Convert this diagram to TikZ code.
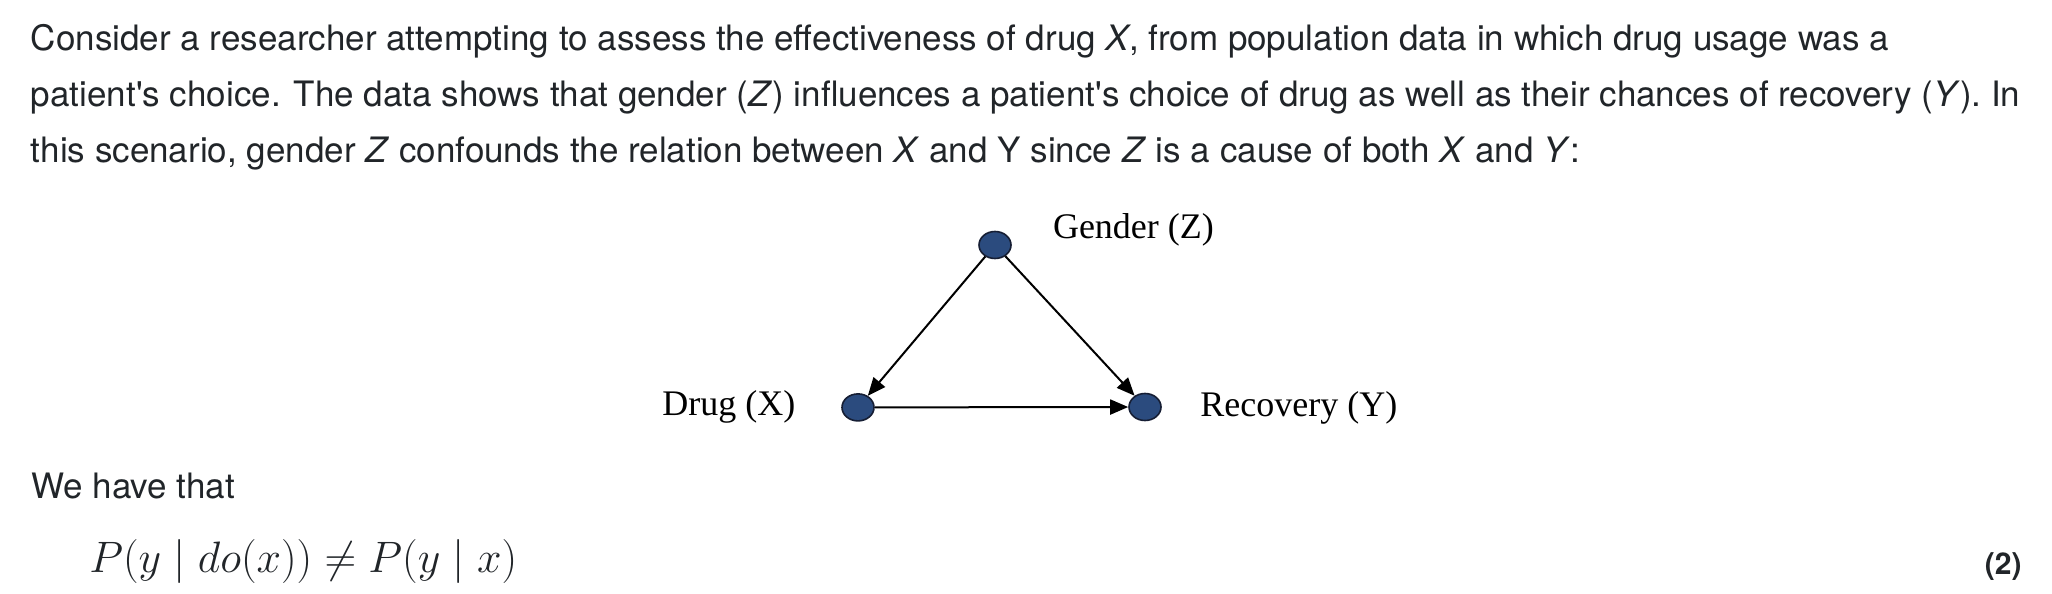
\RequirePackage{fix-cm}
\documentclass[tikz,border=0pt]{standalone}
\usepackage{fontspec}
\setmainfont{Liberation Serif}
\newfontfamily\helv{TeX Gyre Heros}
\usetikzlibrary{shapes.geometric,arrows.meta}
\definecolor{txt}{RGB}{33,37,41}
\definecolor{nodeblue}{RGB}{43,75,126}
\definecolor{nodeline}{RGB}{22,30,52}
\begin{document}
\begin{tikzpicture}[x=1pt,y=-1pt,
  para/.style={anchor=base west, inner sep=0pt, font=\helv\fontsize{17.5}{21}\selectfont, text=txt},
  vnode/.style={ellipse, fill=nodeblue, draw=nodeline, line width=0.8pt, minimum width=16pt, minimum height=13.5pt, inner sep=0pt},
  lbl/.style={anchor=base west, inner sep=0pt, font=\fontsize{18}{21}\selectfont, text=black},
  edge/.style={-{Triangle[length=9pt,width=7.5pt]}, line width=1pt, black}]
\useasboundingbox[fill=white] (0,0) rectangle (1026,297);
% paragraph
\node[para] (l1) at (15.3,25) {Consider a researcher attempting to assess the effectiveness of drug \textit{X}, from population data in which drug usage was a};
\node[para] (l2) at (15.3,53) {patient\textquotesingle s choice. The data shows that gender (\textit{Z}) influences a patient\textquotesingle s choice of drug as well as their chances of recovery (\textit{Y}). In};
\node[para] (l3) at (15.3,81) {this scenario, gender \textit{Z} confounds the relation between \textit{X} and Y since \textit{Z} is a cause of both \textit{X} and \textit{Y}:};
% diagram
\node[vnode] (z) at (497.5,122.5) {};
\node[vnode] (x) at (429,203.7) {};
\node[vnode] (y) at (572.5,203.5) {};
\node[lbl] (zl) at (526.3,119) {Gender (Z)};
\node[lbl] (xl) at (331,207.5) {Drug (X)};
\node[lbl] (yl) at (600,208.3) {Recovery (Y)};
\draw[edge] (z) -- (x);
\draw[edge] (z) -- (y);
\draw[edge] (x) -- (y);
% after
\node[para] (we) at (15.5,249) {We have that};
\node[anchor=base west, inner sep=0pt, font=\fontsize{22}{25}\selectfont, text=txt] (eq) at (44.5,286) {$P(y\mid do(x))\neq P(y\mid x)$};
\node[anchor=base east, inner sep=0pt, font=\helv\bfseries\fontsize{15}{18}\selectfont, text=txt] (num) at (1011,287) {(2)};
\end{tikzpicture}
\end{document}
